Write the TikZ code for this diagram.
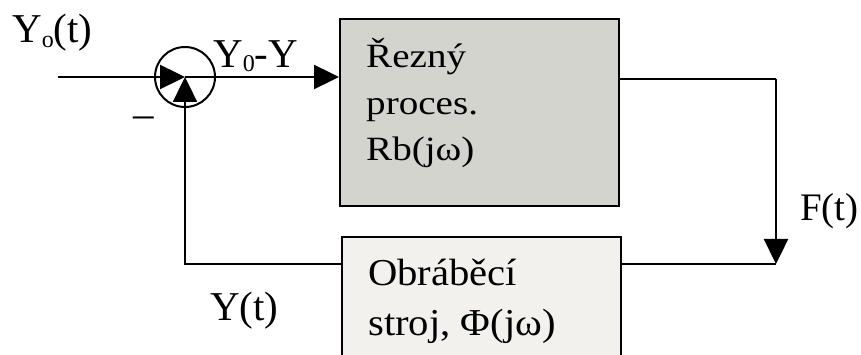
\documentclass[tikz,border=0pt]{standalone}
\usepackage{fontspec}
\setmainfont{Liberation Serif}
\newfontfamily\procfont[FakeStretch=1.15]{Liberation Serif}
\newfontfamily\machfont[FakeStretch=1.07]{Liberation Serif}
\usetikzlibrary{arrows.meta}
\definecolor{procfill}{RGB}{211,212,206}
\definecolor{machfill}{RGB}{242,241,238}
% lowered small index, e.g. Y_o
\newcommand{\lowidx}[3]{\raisebox{-#2}{\fontsize{#1}{#1}\selectfont #3}}
\begin{document}
\begin{tikzpicture}[x=1pt,y=-1pt,
  wire/.style={line width=2.4pt},
  flow/.style={wire,-{Triangle[length=25pt,width=24pt]}},
  block/.style={draw,line width=2.4pt,inner sep=0pt},
  junction/.style={circle,draw,line width=2pt,minimum size=60pt,inner sep=0pt},
  sig/.style={inner sep=0pt,font=\fontsize{41}{48}\selectfont},
  proctxt/.style={inner sep=0pt,align=left,font=\procfont\fontsize{34}{46.5}\selectfont},
  machtxt/.style={inner sep=0pt,align=left,font=\machfont\fontsize{38}{50}\selectfont},
]
\clip (0,0) rectangle (861,355);
\fill[white] (0,0) rectangle (861,355);

% blocks (text anchors sit on the baseline of the last line)
\node[block,fill=procfill,minimum width=279pt,minimum height=187pt,anchor=north west] (proc) at (339,18) {};
\node[block,fill=machfill,minimum width=279pt,minimum height=140pt,anchor=north west] (mach) at (341,236) {};
\node[proctxt,anchor=base west] (proclbl) at (366,161) {Řezný\\proces.\\Rb(jω)};
\node[machtxt,anchor=base west] (machlbl) at (368,335) {Obráběcí\\stroj, Φ(jω)};

% summing junction and wiring points
\node[junction] (sum) at (185,77) {};
\coordinate (in) at (58,77);
\coordinate (c1) at (776,79);
\coordinate (c2) at (776,264);

% connectors
\draw[flow] (in) -- (sum.center);
\draw[flow] (sum.center) -- (proc.west |- sum.center);
\draw[wire] (proc.east |- c1) -- (c1);
\draw[flow] (c1) -- (c2);
\draw[wire] (c2) -- (mach.east |- c2);
\draw[flow] (mach.west |- c2) -| (sum.center);

% signal labels
\node[sig,anchor=base west] (yref) at (12,43) {Y\lowidx{24}{5pt}{o}(t)};
\node[sig,anchor=base west] (yerr) at (213,68) {Y\lowidx{24}{4pt}{0}-Y};
\node[sig] (neg) at (144,122) {–};
\node[sig,anchor=base west,font=\fontsize{39}{46}\selectfont] (force) at (800,221) {F(t)};
\node[sig,anchor=base west] (yfb) at (210,320) {Y(t)};
\end{tikzpicture}
\end{document}
